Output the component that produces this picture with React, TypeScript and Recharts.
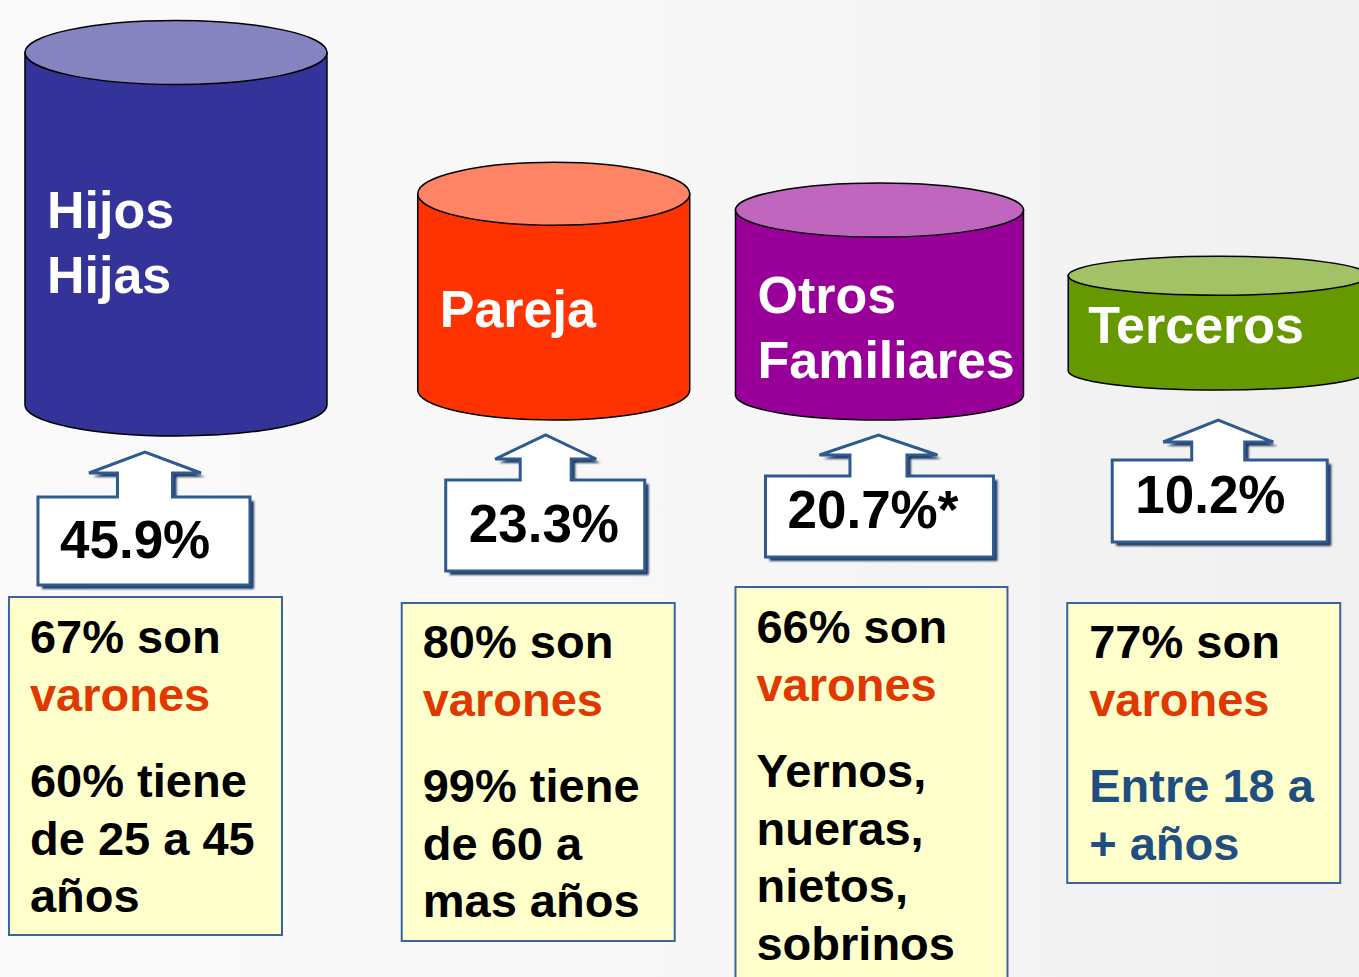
import React from "react";
import { ComposedChart, Bar, XAxis, YAxis } from "recharts";

// ---------- data ----------
const categories = ["Hijos Hijas", "Pareja", "Otros Familiares", "Terceros"];
const categoryLines = [["Hijos", "Hijas"], ["Pareja"], ["Otros", "Familiares"], ["Terceros"]];
const shares = [45.9, 23.3, 20.7, 10.2];
const shareLabels = ["45.9%", "23.3%", "20.7%*", "10.2%"];
const maleLines = ["67% son", "80% son", "66% son", "77% son"];
const maleWord = ["varones", "varones", "varones", "varones"];
const detailLines = [
  ["60% tiene", "de 25 a 45", "años"],
  ["99% tiene", "de 60 a", "mas años"],
  ["Yernos,", "nueras,", "nietos,", "sobrinos"],
  ["Entre 18 a", "+ años"],
];

const data = categories.map((name, i) => ({ name, pct: shares[i] }));

// ---------- styles / layout ----------
const FONT = "'Liberation Sans', Arial, Helvetica, sans-serif";
const COLORS = [
  { body: "#333399", top: "#8584c0" },
  { body: "#ff3300", top: "#ff8466" },
  { body: "#990099", top: "#c066bf" },
  { body: "#669900", top: "#a3c266" },
];
const DETAIL_COLORS = ["#000000", "#000000", "#000000", "#1f4e80"];
const RED = "#e03800";

// offsets relative to the cylinder centre (cx); y values absolute in chart px
const LAYOUT = [
  {
    dx: 6, rx: 151, topRy: 32, botY: 405, botRy: 31,
    nameX: -129, nameY: [228, 293],
    tipX: -31, tipY: 452, wingY: 473, wingHalf: 56, shaftHalf: 27.5,
    boxL: -138, boxR: 74, boxT: 497, boxB: 585, valX: -116, valY: 558,
    noteL: -167, noteR: 106, noteT: 597, noteB: 935, noteX: -146, noteY: 653,
  },
  {
    dx: 44, rx: 136, topRy: 31.5, botY: 390, botRy: 30,
    nameX: -114, nameY: [327],
    tipX: -8, tipY: 435, wingY: 459, wingHalf: 50.5, shaftHalf: 25.5,
    boxL: -108, boxR: 91, boxT: 480, boxB: 571, valX: -85, valY: 542,
    noteL: -152, noteR: 121, noteT: 603, noteB: 941, noteX: -131, noteY: 658,
  },
  {
    dx: 30, rx: 144, topRy: 27, botY: 395, botRy: 25,
    nameX: -122, nameY: [313, 378],
    tipX: -1, tipY: 435, wingY: 455, wingHalf: 59, shaftHalf: 28.5,
    boxL: -114, boxR: 114, boxT: 476, boxB: 557, valX: -92, valY: 528,
    noteL: -144, noteR: 128, noteT: 587, noteB: 1000, noteX: -123, noteY: 643,
  },
  {
    dx: 29, rx: 150, topRy: 19.5, botY: 371, botRy: 19,
    nameX: -130, nameY: [343],
    tipX: 0, tipY: 420, wingY: 442, wingHalf: 55, shaftHalf: 26.5,
    boxL: -106, boxR: 109, boxT: 460, boxB: 542, valX: -83, valY: 513,
    noteL: -151, noteR: 122, noteT: 603, noteB: 883, noteX: -129, noteY: 658,
  },
];

const LINE = 57.5;
const DETAIL_GAP = 144;

const Cylinder = (props: any) => {
  const { x, y, width, payload } = props;
  const i = categories.indexOf(payload.name);
  const L = LAYOUT[i];
  const C = COLORS[i];
  const cx = x + width / 2 + L.dx;
  const l = cx - L.rx;
  const r = cx + L.rx;
  const ty = y; // top of cylinder body from the value scale
  const by = L.botY;

  const body = `M ${l} ${ty} L ${l} ${by} A ${L.rx} ${L.botRy} 0 0 0 ${r} ${by} L ${r} ${ty} Z`;

  const tx = cx + L.tipX;
  const arrow = [
    `M ${cx + L.boxL} ${L.boxT}`,
    `L ${tx - L.shaftHalf} ${L.boxT}`,
    `L ${tx - L.shaftHalf} ${L.wingY}`,
    `L ${tx - L.wingHalf} ${L.wingY}`,
    `L ${tx} ${L.tipY}`,
    `L ${tx + L.wingHalf} ${L.wingY}`,
    `L ${tx + L.shaftHalf} ${L.wingY}`,
    `L ${tx + L.shaftHalf} ${L.boxT}`,
    `L ${cx + L.boxR} ${L.boxT}`,
    `L ${cx + L.boxR} ${L.boxB}`,
    `L ${cx + L.boxL} ${L.boxB}`,
    "Z",
  ].join(" ");

  const fid = `shadow-${i}`;
  const noteX = cx + L.noteX;

  return (
    <g>
      <defs>
        <filter id={fid} x="-10%" y="-10%" width="130%" height="130%">
          <feGaussianBlur stdDeviation="1.2" />
        </filter>
      </defs>
      {/* cylinder */}
      <path d={body} fill={C.body} stroke="#000" strokeWidth={1.5} />
      <ellipse cx={cx} cy={ty} rx={L.rx} ry={L.topRy} fill={C.top} stroke="#000" strokeWidth={1.5} />
      {categoryLines[i].map((t, k) => (
        <text key={k} x={cx + L.nameX} y={L.nameY[k]} fill="#ffffff" fontSize={52} fontWeight="bold" fontFamily={FONT}>
          {t}
        </text>
      ))}
      {/* arrow + value box */}
      <path d={arrow} transform="translate(4,4)" fill="#1d375e" filter={`url(#${fid})`} />
      <path d={arrow} fill="#ffffff" stroke="#2e5a8f" strokeWidth={3} strokeLinejoin="miter" />
      <text x={cx + L.valX} y={L.valY} fill="#000" fontSize={53} fontWeight="bold" fontFamily={FONT}>
        {shareLabels[i]}
      </text>
      {/* note box */}
      <rect
        x={cx + L.noteL}
        y={L.noteT}
        width={L.noteR - L.noteL}
        height={L.noteB - L.noteT}
        fill="#ffffcc"
        stroke="#3a64a0"
        strokeWidth={2}
      />
      <text x={noteX} y={L.noteY} fill="#000" fontSize={47} fontWeight="bold" fontFamily={FONT}>
        {maleLines[i]}
      </text>
      <text x={noteX} y={L.noteY + LINE} fill={RED} fontSize={47} fontWeight="bold" fontFamily={FONT}>
        {maleWord[i]}
      </text>
      {detailLines[i].map((t, k) => (
        <text
          key={k}
          x={noteX}
          y={L.noteY + DETAIL_GAP + k * LINE}
          fill={DETAIL_COLORS[i]}
          fontSize={47}
          fontWeight="bold"
          fontFamily={FONT}
        >
          {t}
        </text>
      ))}
    </g>
  );
};

export default function App() {
  return (
    <div
      style={{
        position: "absolute",
        left: 0,
        top: 0,
        width: 1359,
        height: 977,
        overflow: "hidden",
        background: "linear-gradient(90deg, #fafafa 0%, #f7f7f7 50%, #f0f0f0 100%)",
        fontFamily: FONT,
      }}
    >
      <ComposedChart width={1359} height={977} data={data} margin={{ top: 0, right: 0, bottom: 0, left: 0 }}>
        <XAxis dataKey="name" type="category" hide />
        <YAxis type="number" domain={[-102, 54.3]} hide />
        <Bar dataKey="pct" isAnimationActive={false} shape={Cylinder} />
      </ComposedChart>
    </div>
  );
}
